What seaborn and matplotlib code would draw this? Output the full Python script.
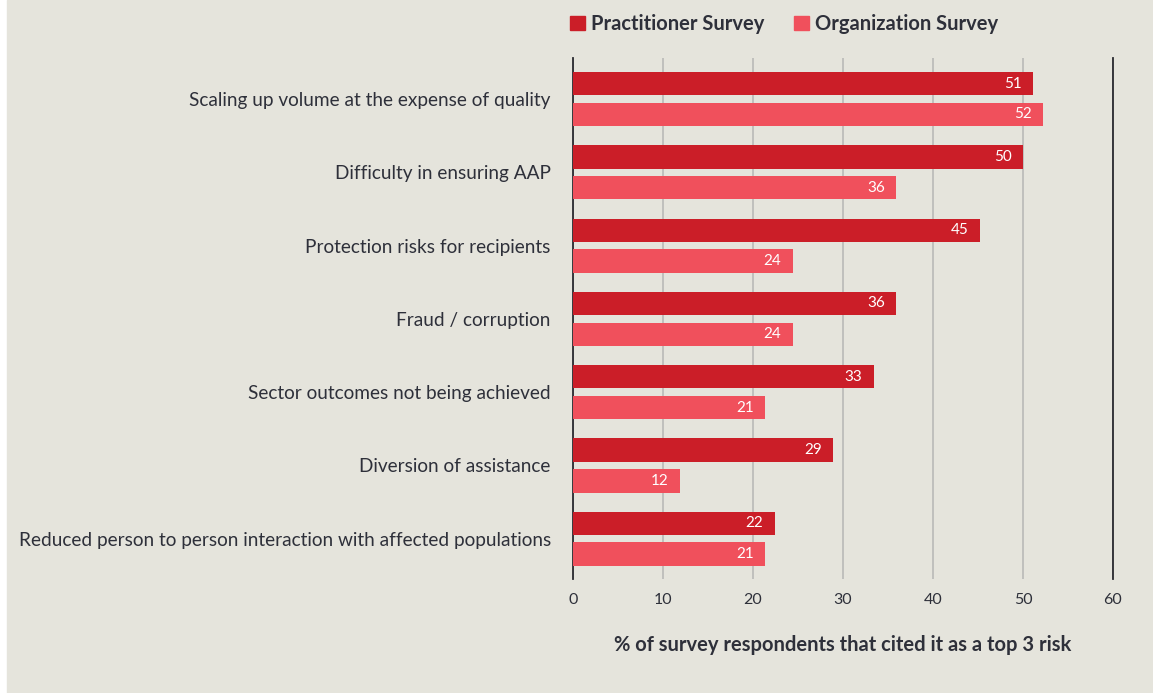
import pandas as pd
import matplotlib.pyplot as plt
import seaborn as sns
from matplotlib.patches import Rectangle

# Data
risks = [
    'Scaling up volume at the expense of quality',
    'Difficulty in ensuring AAP',
    'Protection risks for recipients',
    'Fraud / corruption',
    'Sector outcomes not being achieved',
    'Diversion of assistance',
    'Reduced person to person interaction with affected populations',
]
practitioner = [51.1, 50.0, 45.2, 35.9, 33.4, 28.9, 22.4]
organization = [52.2, 35.9, 24.4, 24.4, 21.3, 11.9, 21.3]
series = ['Practitioner Survey', 'Organization Survey']

df = pd.DataFrame({
    'Risk': risks * 2,
    'Value': practitioner + organization,
    'Survey': [series[0]] * len(risks) + [series[1]] * len(risks),
})

bg = '#E5E4DC'
text_col = '#2E303A'
palette = {series[0]: '#CB1E28', series[1]: '#F0505C'}

sns.set_theme(style='white')
plt.rcParams['font.family'] = ['Lato', 'DejaVu Sans']

fig = plt.figure(figsize=(11.53, 6.93), dpi=100, facecolor='white')
fig.patches.append(Rectangle((7 / 1153, 0.0), 1 - 7 / 1153, 1.0,
                             transform=fig.transFigure, color=bg, zorder=-10))

ax = fig.add_axes([573 / 1153, 1 - 579 / 693, 540 / 1153, 521 / 693])
ax.set_facecolor(bg)

sns.barplot(data=df, y='Risk', x='Value', hue='Survey', palette=palette,
            orient='h', width=0.84, gap=0.24, saturation=1, ax=ax, legend=False,
            linewidth=0, zorder=3)

ax.set_xlim(0, 60)
ax.set_ylim(6.55, -0.56)
ax.set_xticks(range(0, 61, 10))
ax.xaxis.grid(True, color='#BDBDBA', linewidth=1.3, zorder=0)
ax.yaxis.grid(False)
for s in ['top', 'bottom']:
    ax.spines[s].set_visible(False)
for s in ['left', 'right']:
    ax.spines[s].set_color('#2A2A30')
    ax.spines[s].set_linewidth(1.3)
ax.tick_params(axis='x', length=0, pad=10, labelsize=11.5, labelcolor=text_col)
ax.tick_params(axis='y', length=0, pad=16, labelsize=13.7, labelcolor=text_col)
ax.set_ylabel('')
ax.set_xlabel('% of survey respondents that cited it as a top 3 risk',
              fontsize=14.5, fontweight='bold', color=text_col, labelpad=20)

# value labels inside bars
for container in ax.containers:
    labels = [f'{v:.0f}' for v in container.datavalues]
    ax.bar_label(container, labels=labels, padding=-8, color='white',
                 fontsize=11, label_type='edge', zorder=4)
for t in ax.texts:
    t.set_ha('right')

# legend at top
handles = [Rectangle((0, 0), 1, 1, color=palette[s]) for s in series]
leg = fig.legend(handles, series, loc='center left',
                 bbox_to_anchor=(552 / 1153, 1 - 24 / 693), ncol=2, frameon=False,
                 handlelength=0.75, handleheight=0.75, handletextpad=0.3,
                 columnspacing=1.45, prop={'weight': 'bold', 'size': 14.5})
for t in leg.get_texts():
    t.set_color(text_col)

fig.savefig('out.png', dpi=100, facecolor=fig.get_facecolor())
